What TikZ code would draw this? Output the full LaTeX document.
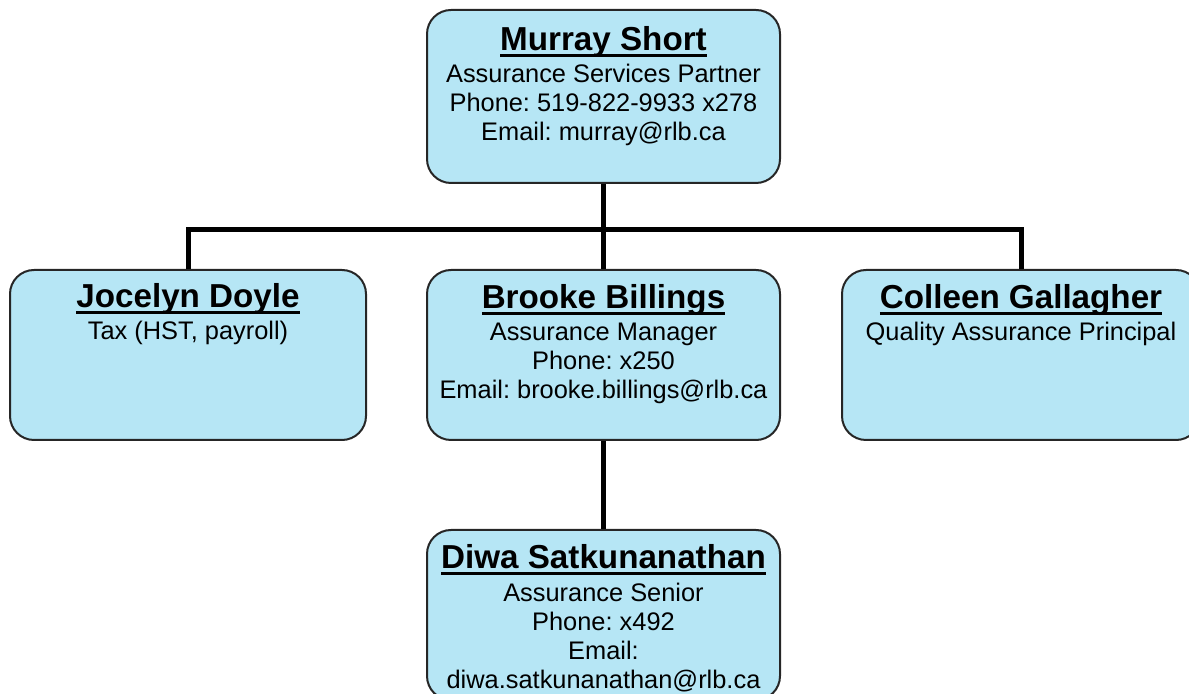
\documentclass[tikz,border=0pt]{standalone}
\usepackage{fontspec}
\setmainfont{Liberation Sans}
\usetikzlibrary{positioning}
\definecolor{cardblue}{RGB}{182,230,245}
\frenchspacing
\newsavebox{\namebox}
\newcommand{\pname}[1]{{\fontsize{16.6}{18}\selectfont\bfseries
  \sbox{\namebox}{#1}\rlap{\rule[-3.4pt]{\wd\namebox}{1.5pt}}\usebox{\namebox}}}

\begin{document}
\begin{tikzpicture}[x=0.5pt, y=-0.5pt,
  card/.style={draw=black!85, line width=1pt, rounded corners=12pt, fill=cardblue, inner sep=0pt, minimum height=85pt},
  cardtext/.style={inner sep=0pt, align=center, font=\fontsize{12.7}{14.5}\selectfont},
  link/.style={line width=2.5pt, black}]

  \useasboundingbox (0,0) rectangle (1189,694);

  % boxes
  \node[card, minimum width=176.5pt, minimum height=86.5pt] (murray) at (603.5,96.5) {};
  \node[card, minimum width=178pt] (jocelyn) at (188,355) {};
  \node[card, minimum width=176.5pt] (brooke) at (603.5,355) {};
  \node[card, minimum width=179pt] (colleen) at (1021,355) {};
  \node[card, minimum width=176.5pt] (diwa) at (603.5,615) {};

  % texts
  \node[cardtext, below=8.5pt of murray.north] (murraytxt) {\pname{Murray Short}\\[1.5pt]
    Assurance Services Partner\\ Phone: 519-822-9933 x278\\ Email: murray@rlb.ca};
  \node[cardtext, below=7pt of jocelyn.north] (jocelyntxt) {\pname{Jocelyn Doyle}\\[1.5pt]
    Tax (HST, payroll)};
  \node[cardtext, below=7.5pt of brooke.north] (brooketxt) {\pname{Brooke Billings}\\[1.5pt]
    Assurance Manager\\ Phone: x250\\ Email: brooke.billings@rlb.ca};
  \node[cardtext, below=7.5pt of colleen.north] (colleentxt) {\pname{Colleen Gallagher}\\[1.5pt]
    Quality Assurance Principal};
  \node[cardtext, below=7.5pt of diwa.north] (diwatxt) {\pname{Diwa Satkunanathan}\\[2pt]
    Assurance Senior\\ Phone: x492\\ Email:\\ diwa.satkunanathan@rlb.ca};

  % connectors
  \coordinate (bus) at (603.5,230);
  \draw[link] (murray) -- (bus);
  \draw[link] (bus) -| (jocelyn);
  \draw[link] (bus) -- (brooke);
  \draw[link] (bus) -| (colleen);
  \draw[link] (brooke) -- (diwa);
\end{tikzpicture}
\end{document}
